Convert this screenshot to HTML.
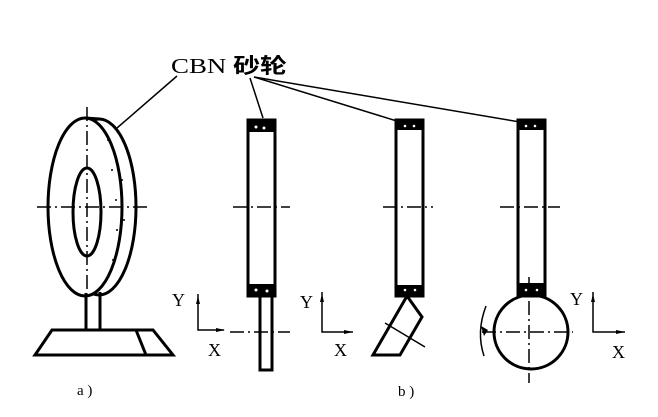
<!DOCTYPE html>
<html><head><meta charset="utf-8"><style>html,body{margin:0;padding:0;background:#fff}svg{display:block}</style></head><body>
<svg width="658" height="417" viewBox="0 0 658 417" xmlns="http://www.w3.org/2000/svg">
<g fill="none" stroke="#000" stroke-width="3">
<ellipse cx="99" cy="207" rx="37" ry="88"/>
<ellipse cx="85" cy="207" rx="37" ry="89" fill="#fff"/>
<line x1="85" y1="118" x2="100" y2="119"/>
<ellipse cx="87" cy="212" rx="14" ry="44"/>
<path d="M86,293 L86,330 M100,292 L100,330"/>
<path d="M52,330 L153,330 L173,355 L35,355 Z"/>
<path d="M136,330 L146,355"/>
</g>
<g stroke="#000" stroke-width="1.5" fill="none" stroke-dasharray="14,4,2,4">
<line x1="37" y1="207" x2="150" y2="207"/>
<line x1="87" y1="107" x2="87" y2="293"/>
</g>
<g fill="#000"><circle cx="108" cy="140" r="1"/><circle cx="112" cy="170" r="1"/><circle cx="116" cy="200" r="1"/><circle cx="117" cy="230" r="1"/><circle cx="113" cy="260" r="1"/><circle cx="122" cy="180" r="1"/><circle cx="124" cy="220" r="1"/></g>
<g stroke="#000" stroke-width="1.5">
<line x1="177" y1="76" x2="117" y2="128"/>
<line x1="250" y1="78" x2="263" y2="118"/>
<line x1="254" y1="77" x2="400" y2="122"/>
<line x1="254" y1="77" x2="520" y2="122"/>
</g>
<text x="171" y="73" font-family="Liberation Serif, Noto Serif CJK SC, serif" font-size="21" textLength="116" lengthAdjust="spacingAndGlyphs">CBN <tspan font-family="Noto Sans CJK SC, sans-serif" font-weight="bold">砂轮</tspan></text>
<g fill="none" stroke="#000" stroke-width="3">
<rect x="248" y="120" width="27" height="176"/>
<rect x="396" y="120" width="27" height="176"/>
<rect x="518" y="120" width="27" height="176"/>
<path d="M260,296 L260,370 L272,370 L272,296"/>
<path d="M407,296 L422,317 L400,355 L373,355 Z"/>
<circle cx="531" cy="332" r="37"/>
</g>
<g fill="#000">
<rect x="248" y="120" width="27" height="12"/><rect x="248" y="284" width="27" height="12"/>
<rect x="396" y="120" width="27" height="10"/><rect x="396" y="285" width="27" height="11"/>
<rect x="518" y="120" width="27" height="10"/><rect x="518" y="283" width="27" height="13"/>
</g>
<g fill="#fff"><circle cx="256" cy="127" r="1.5"/><circle cx="264" cy="128" r="1.5"/><circle cx="256" cy="290" r="1.5"/><circle cx="267" cy="291" r="1.5"/><circle cx="405" cy="126" r="1.3"/><circle cx="414" cy="126" r="1.3"/><circle cx="405" cy="290" r="1.3"/><circle cx="415" cy="290" r="1.3"/><circle cx="526" cy="126" r="1.3"/><circle cx="535" cy="126" r="1.3"/><circle cx="526" cy="290" r="1.3"/><circle cx="537" cy="290" r="1.3"/></g>
<g stroke="#000" stroke-width="1.5" fill="none" stroke-dasharray="14,4,2,4">
<line x1="233" y1="207" x2="290" y2="207"/>
<line x1="383" y1="207" x2="433" y2="207"/>
<line x1="500" y1="207" x2="560" y2="207"/>
<line x1="230" y1="332" x2="290" y2="332"/>
<line x1="482" y1="332" x2="573" y2="332"/>
<line x1="529" y1="277" x2="529" y2="383"/>
</g>
<g stroke="#000" stroke-width="1.5" fill="none">
<line x1="385" y1="323" x2="425" y2="347"/>
<path d="M486,306 Q476,332 484,356"/>
<path d="M198,294 L198,330 L224,330 M322,292 L322,332 L353,332 M593,292 L593,332 L625,332"/>
</g>
<g fill="#000"><path d="M196,304 L198,296 L200,304Z M216,328 L225,330 L216,332Z M320,302 L322,294 L324,302Z M344,330 L353,332 L344,334Z M591,302 L593,294 L595,302Z M616,330 L625,332 L616,334Z M484,336 L481,326 L488,330Z"/></g>
<g font-family="Liberation Serif, serif" font-size="18">
<text x="172" y="306">Y</text><text x="208" y="356">X</text>
<text x="300" y="308">Y</text><text x="334" y="356">X</text>
<text x="570" y="305">Y</text><text x="612" y="358">X</text>
<text x="77" y="395" font-size="15">a )</text>
<text x="398" y="396" font-size="15">b )</text>
</g>
</svg>
</body></html>
